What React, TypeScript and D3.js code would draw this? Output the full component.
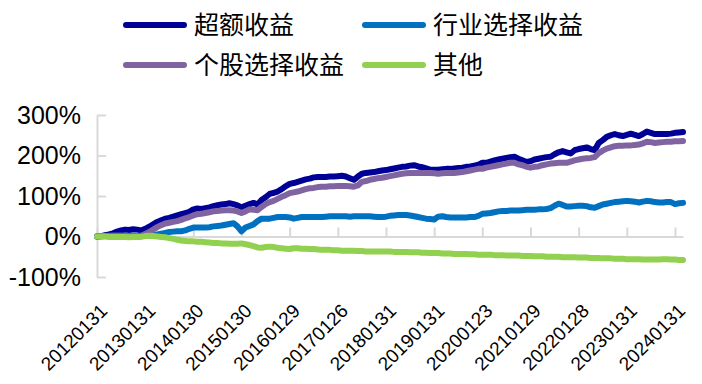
import React, { useEffect, useRef } from "react";
import * as d3 from "d3";

// tick labels on the x axis, one per January
const tickLabels = [
  "20120131", "20130131", "20140130", "20150130", "20160129", "20170126", "20180131",
  "20190131", "20200123", "20210129", "20220128", "20230131", "20240131",
];

// monthly cumulative returns, % (Jan 2012 .. Mar 2024)
const excess = [
  0, 1, 3, 5, 8, 12, 15, 17, 16, 18, 17, 15,
  19, 24, 30, 36, 40, 44, 46, 49, 52, 55, 58, 61,
  67, 69, 68, 70, 72, 75, 77, 79, 80, 82, 80, 77,
  72, 76, 80, 83, 79, 90, 97, 105, 108, 111, 117, 124,
  130, 132, 135, 138, 141, 143, 146, 147, 147, 147, 148, 148,
  149, 150, 148, 144, 140, 148, 155, 157, 158, 159, 161, 163,
  164, 166, 168, 170, 172, 173, 175, 176, 173, 171, 168, 165,
  165, 165, 166, 167, 167, 168, 169, 170, 172, 173, 175, 177,
  182, 182, 185, 188, 190, 192, 194, 196, 197, 192, 188, 184,
  186, 190, 192, 194, 196, 197, 203, 208, 211, 208, 205, 213,
  216, 218, 220, 216, 213, 231, 238, 246, 250, 253, 250, 248,
  251, 254, 251, 248, 253, 259, 256, 253, 253, 253, 253, 254,
  256, 257, 258,
];

const industry = [
  0, 1, 1, 2, 2, 2, 2, 2, 2, 2, 2, 2,
  2, 3, 4, 5, 7, 9, 11, 12, 13, 13, 15, 19,
  22, 22, 22, 22, 23, 25, 26, 27, 29, 31, 33, 25,
  13, 22, 26, 30, 38, 44, 44, 44, 46, 48, 48, 48,
  47, 44, 46, 48, 48, 48, 48, 48, 48, 49, 50, 50,
  50, 50, 50, 49, 50, 50, 50, 50, 50, 49, 48, 48,
  49, 51, 52, 53, 53, 53, 52, 50, 48, 46, 44, 43,
  42, 49, 50, 48, 47, 47, 47, 47, 47, 48, 48, 51,
  56, 57, 58, 60, 62, 63, 63, 64, 64, 64, 65, 66,
  66, 66, 67, 67, 68, 70, 76, 81, 78, 74, 74, 75,
  76, 76, 75, 72, 71, 75, 79, 81, 83, 85, 86, 87,
  88, 87, 86, 84, 86, 88, 87, 85, 84, 84, 85, 85,
  80, 82, 83,
];

const stock = [
  0, 0, 1, 1, 2, 2, 2, 1, 1, 1, 1, 2,
  6, 11, 17, 23, 28, 32, 34, 36, 38, 41, 45, 48,
  52, 55, 56, 58, 60, 62, 63, 64, 65, 65, 64, 62,
  58, 62, 67, 66, 65, 73, 80, 85, 88, 93, 98, 102,
  107, 109, 111, 114, 117, 119, 120, 122, 123, 123, 124, 124,
  125, 125, 125, 124, 123, 126, 135, 137, 140, 142, 144, 145,
  147, 149, 151, 153, 155, 156, 157, 157, 157, 157, 157, 157,
  156, 155, 156, 157, 157, 157, 158, 159, 161, 163, 165, 167,
  167, 170, 172, 174, 176, 178, 180, 182, 182, 178, 176, 172,
  170, 172, 173, 176, 178, 180, 181, 182, 182, 182, 185, 188,
  190, 192, 193, 194, 196, 206, 212, 217, 220, 223, 224, 224,
  225, 225, 226, 227, 230, 234, 233, 231, 232, 233, 234, 234,
  235, 235, 236,
];

const other = [
  0, 0, 0, -1, -1, -1, -1, -1, -2, -1, -1, -1,
  1, 2, 1, 0, -1, -2, -4, -6, -8, -10, -11, -12,
  -12, -13, -13, -14, -15, -16, -16, -17, -17, -18, -18, -18,
  -17, -19, -21, -24, -27, -28, -26, -25, -26, -28, -29, -30,
  -31, -29, -29, -30, -30, -31, -31, -32, -33, -33, -33, -34,
  -34, -35, -35, -35, -35, -36, -36, -37, -37, -37, -37, -37,
  -37, -37, -38, -38, -38, -38, -39, -39, -39, -40, -40, -41,
  -41, -41, -42, -42, -42, -43, -43, -43, -43, -44, -44, -45,
  -45, -45, -45, -46, -46, -46, -47, -47, -47, -47, -48, -48,
  -48, -49, -49, -49, -50, -50, -50, -50, -51, -51, -51, -51,
  -52, -52, -52, -53, -53, -53, -54, -54, -54, -55, -55, -55,
  -56, -56, -56, -56, -57, -57, -57, -57, -57, -56, -56, -57,
  -57, -58, -58,
];

const series = [
  { name: "超额收益", values: excess, color: "#000096" },
  { name: "行业选择收益", values: industry, color: "#0070C0" },
  { name: "个股选择收益", values: stock, color: "#8064A2" },
  { name: "其他", values: other, color: "#92D050" },
];

const yTicks = [-100, 0, 100, 200, 300];

const App = () => {
  const svgRef = useRef<SVGSVGElement>(null);
  const width = 702;
  const height = 384;
  const plot = { left: 97, right: 683, top: 115, bottom: 277 };

  useEffect(() => {
    const svg = d3.select(svgRef.current);
    svg.selectAll("*").remove();

    const n = excess.length;
    const x = d3.scaleLinear().domain([0, n - 1]).range([plot.left, plot.right]);
    const y = d3.scaleLinear().domain([-100, 300]).range([plot.bottom, plot.top]);
    const axisColor = "#d9d9d9";
    const numFont = "'Liberation Sans', Arial, sans-serif";

    // y axis
    const yAxis = svg
      .append("g")
      .attr("transform", `translate(${plot.left},0)`)
      .call(
        d3
          .axisLeft(y)
          .tickValues(yTicks)
          .tickSizeInner(-9)
          .tickSizeOuter(0)
          .tickPadding(16)
          .tickFormat((d) => `${d}%`)
      );
    yAxis.select(".domain").attr("stroke", axisColor).attr("stroke-width", 2);
    yAxis.selectAll(".tick line").attr("stroke", axisColor).attr("stroke-width", 2);
    yAxis
      .selectAll(".tick text")
      .attr("fill", "#000")
      .attr("font-size", 25)
      .attr("font-family", numFont);

    // x axis on the zero line
    const xAxis = svg
      .append("g")
      .attr("transform", `translate(0,${y(0)})`)
      .call(
        d3
          .axisBottom(x)
          .tickValues(tickLabels.map((_, i) => i * 12))
          .tickSizeInner(-9)
          .tickSizeOuter(0)
          .tickFormat((d, i) => tickLabels[i])
      );
    xAxis.select(".domain").attr("stroke", axisColor).attr("stroke-width", 2);
    xAxis.selectAll(".tick line").attr("stroke", axisColor).attr("stroke-width", 2);
    xAxis
      .selectAll(".tick text")
      .attr("y", null)
      .attr("dy", null)
      .attr("fill", "#000")
      .attr("font-size", 19)
      .attr("font-family", numFont)
      .attr("text-anchor", "end")
      .attr("transform", `translate(11,${312 - y(0)}) rotate(-45)`);

    // lines
    const line = d3
      .line<number>()
      .x((d, i) => x(i))
      .y((d) => y(d));

    series.forEach((s) => {
      svg
        .append("path")
        .datum(s.values)
        .attr("d", line)
        .attr("fill", "none")
        .attr("stroke", s.color)
        .attr("stroke-width", 6)
        .attr("stroke-linejoin", "round")
        .attr("stroke-linecap", "round");
    });

    // legend
    const legendPos = [
      { x: 126, y: 25 },
      { x: 365, y: 25 },
      { x: 126, y: 65 },
      { x: 365, y: 65 },
    ];
    const legend = svg
      .append("g")
      .selectAll("g")
      .data(series)
      .join("g")
      .attr("transform", (d, i) => `translate(${legendPos[i].x},${legendPos[i].y})`);
    legend
      .append("line")
      .attr("x1", 0)
      .attr("x2", 58)
      .attr("stroke", (d) => d.color)
      .attr("stroke-width", 6)
      .attr("stroke-linecap", "round");
    legend
      .append("text")
      .attr("x", 68)
      .attr("dy", "0.36em")
      .attr("font-size", 25)
      .attr("font-family", "'Noto Sans CJK SC', sans-serif")
      .attr("fill", "#000")
      .text((d) => d.name);
  }, []);

  return (
    <svg
      ref={svgRef}
      width={width}
      height={height}
      style={{ position: "absolute", left: 0, top: 0, background: "#fff" }}
    ></svg>
  );
};

export default App;
